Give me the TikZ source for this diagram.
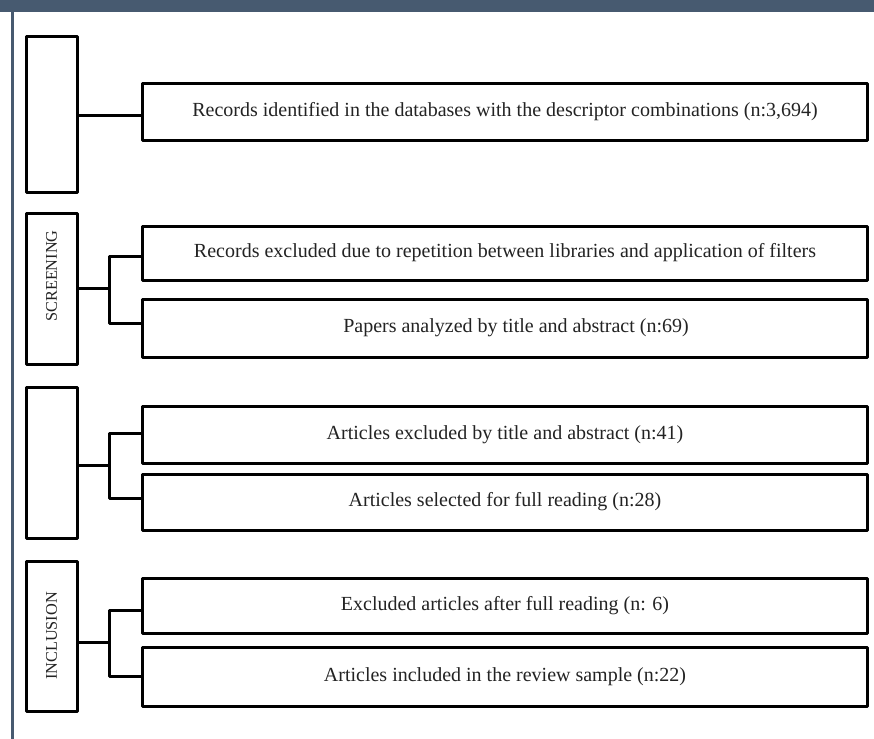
\documentclass[tikz,border=0pt]{standalone}
\usepackage{fontspec}
\setmainfont{Liberation Serif}
\definecolor{framec}{RGB}{71,90,112}
\definecolor{txt}{RGB}{35,35,35}
\begin{document}
\begin{tikzpicture}[x=1bp,y=-1bp,
  box/.style={draw=black,line width=3bp,line join=round,inner sep=0pt,fill=white},
  sidebox/.style={box,minimum width=51bp},
  rbox/.style={box,minimum width=724bp,font=\fontsize{20bp}{24bp}\selectfont,text=txt},
  side/.style={font=\fontsize{16.3bp}{19bp}\selectfont,text=txt,rotate=90},
  conn/.style={draw=black,line width=3bp,line join=round}]
\useasboundingbox (0,0) rectangle (874,739);
% frame
\fill[framec] (0,0) rectangle (874,12.5);
\fill[framec] (10.5,12.5) rectangle (13.5,739);
% left boxes
\node[sidebox,minimum height=155bp] (L1) at (51.5,114.5) {};
\node[sidebox,minimum height=151bp] (L2) at (51.5,288.5) {};
\node[side] (T2) at (51.5,276) {SCREENING};
\node[sidebox,minimum height=151bp] (L3) at (51.5,462.5) {};
\node[sidebox,minimum height=150bp] (L4) at (51.5,636) {};
\node[side] (T4) at (L4.center) {INCLUSION};
% right boxes
\node[rbox,minimum height=56bp] (R1) at (505,112) {\raisebox{-2bp}{Records identified in the databases with the descriptor combinations (n:3,694)}};
\node[rbox,minimum height=54bp] (R2) at (505,253) {\raisebox{-2bp}{Records excluded due to repetition between libraries and application of filters}};
\node[rbox,minimum height=58bp] (R3) at (505,328) {\hspace*{22bp}Papers analyzed by title and abstract (n:69)};
\node[rbox,minimum height=57bp] (R4) at (505,434.5) {Articles excluded by title and abstract (n:41)};
\node[rbox,minimum height=56bp] (R5) at (505,502) {\raisebox{-1bp}{Articles selected for full reading (n:28)}};
\node[rbox,minimum height=55bp] (R6) at (505,605.5) {Excluded articles after full reading (n: 6)};
\node[rbox,minimum height=59bp] (R7) at (505,676.5) {\raisebox{-1bp}{Articles included in the review sample (n:22)}};
% fork coordinates
\coordinate (s1) at (77,115);
\coordinate (s2) at (77,288);
\coordinate (a2) at (109,256);
\coordinate (b2) at (109,323);
\coordinate (s3) at (77,465);
\coordinate (a3) at (109,433);
\coordinate (b3) at (109,498);
\coordinate (s4) at (77,642);
\coordinate (a4) at (109,610);
\coordinate (b4) at (109,676);
% connectors
\draw[conn] (s1 -| L1.east) -- (s1 -| R1.west);
\draw[conn] (s2 -| L2.east) -- (s2 -| a2);
\draw[conn] (a2 -| R2.west) -- (a2) -- (b2) -- (b2 -| R3.west);
\draw[conn] (s3 -| L3.east) -- (s3 -| a3);
\draw[conn] (a3 -| R4.west) -- (a3) -- (b3) -- (b3 -| R5.west);
\draw[conn] (s4 -| L4.east) -- (s4 -| a4);
\draw[conn] (a4 -| R6.west) -- (a4) -- (b4) -- (b4 -| R7.west);
\end{tikzpicture}
\end{document}
